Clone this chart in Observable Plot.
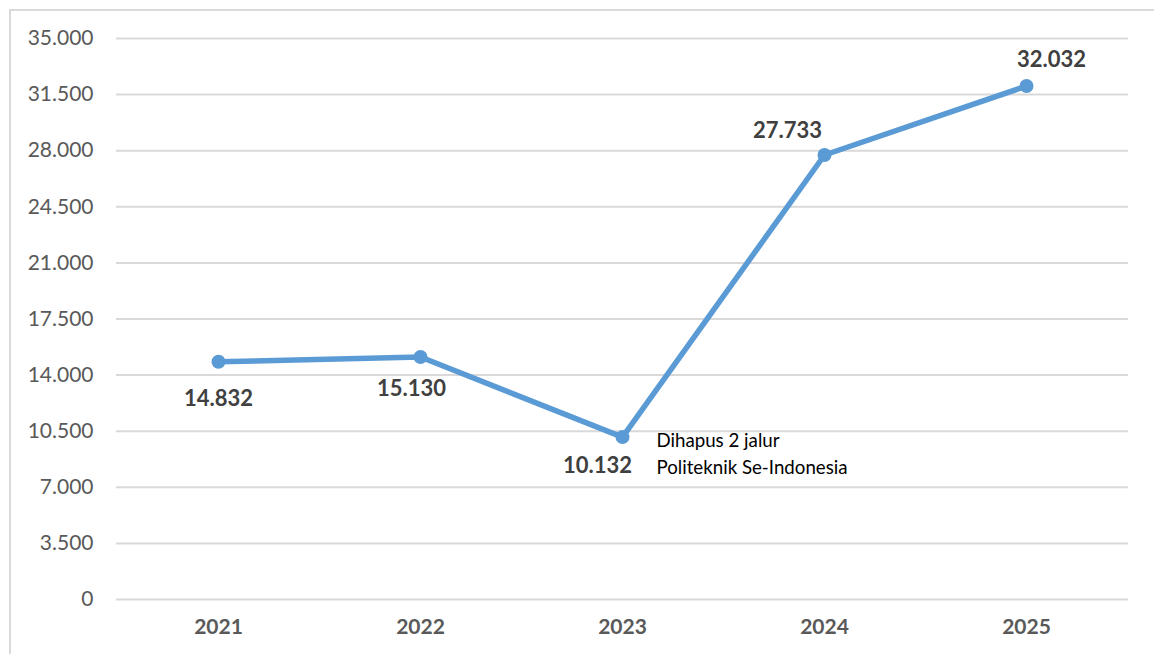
<!DOCTYPE html>
<html>
<head>
<meta charset="utf-8">
<script src="https://cdn.jsdelivr.net/npm/d3@7"></script>
<script src="https://cdn.jsdelivr.net/npm/@observablehq/plot@0.6"></script>
<style>
  html, body { margin: 0; padding: 0; background: #fff; }
  #wrap { position: relative; width: 1154px; height: 654px; overflow: hidden; }
  #border { position: absolute; left: 9px; top: 9px; width: 1200px; height: 700px;
            border-left: 2px solid #d9d9d9; border-top: 2px solid #d9d9d9; box-sizing: border-box; }
  #wrap svg { position: absolute; left: 0; top: 0; }
</style>
</head>
<body>
<div id="wrap"><div id="border"></div></div>
<script>
const years = ["2021", "2022", "2023", "2024", "2025"];
const values = [14832, 15130, 10132, 27733, 32032];
const yTicks = [0, 3500, 7000, 10500, 14000, 17500, 21000, 24500, 28000, 31500, 35000];
const noteLines = ["Dihapus 2 jalur", "Politeknik Se-Indonesia"];
const noteYear = "2023";

const data = years.map((y, i) => ({year: y, value: values[i]}));
const loc = d3.formatLocale({decimal: ",", thousands: ".", grouping: [3], currency: ["", ""]});
const fmt = loc.format(",");

const blue = "#5b9bd5";
const font = "Lato, 'Open Sans', sans-serif";

// label placement (style, per point)
const place = {
  "2021": {dx: 0, dy: 37},
  "2022": {dx: -9, dy: 32},
  "2023": {dx: -25, dy: 29},
  "2024": {dx: -37, dy: -24},
  "2025": {dx: 25, dy: -26}
};

const labelMarks = data.map(d => Plot.text([d], {
  x: "year", y: "value", text: r => fmt(r.value),
  dx: place[d.year].dx, dy: place[d.year].dy,
  fill: "#404040", fontWeight: "bold", fontSize: 22, fontFamily: font
}));

const noteDatum = data.find(d => d.year === noteYear);

const chart = Plot.plot({
  width: 1154,
  height: 654,
  marginLeft: 116,
  marginRight: 26,
  marginTop: 38,
  marginBottom: 55,
  style: {fontFamily: font, background: "transparent"},
  x: {type: "point", domain: years, padding: 0.5, label: null},
  y: {domain: [0, 35000], label: null},
  marks: [
    Plot.gridY(yTicks, {stroke: "#d9d9d9", strokeOpacity: 1, strokeWidth: 2}),
    Plot.axisY(yTicks, {tickFormat: fmt, tickSize: 0, tickPadding: 23, fontSize: 21, fill: "#595959", label: null}),
    Plot.axisX({tickSize: 0, tickPadding: 20, fontSize: 21, fontWeight: "bold", fill: "#595959", label: null}),
    Plot.line(data, {x: "year", y: "value", stroke: blue, strokeWidth: 5.5, strokeLinejoin: "round"}),
    Plot.dot(data, {x: "year", y: "value", r: 7, fill: blue, stroke: "none"}),
    ...labelMarks,
    Plot.text([noteDatum], {
      x: "year", y: "value", text: () => noteLines.join("\n"),
      textAnchor: "start", lineAnchor: "middle", lineHeight: 1.4,
      dx: 34, dy: 15, fontSize: 18.7, fill: "#000", fontFamily: font
    })
  ]
});
document.getElementById("wrap").appendChild(chart);
</script>
</body>
</html>
